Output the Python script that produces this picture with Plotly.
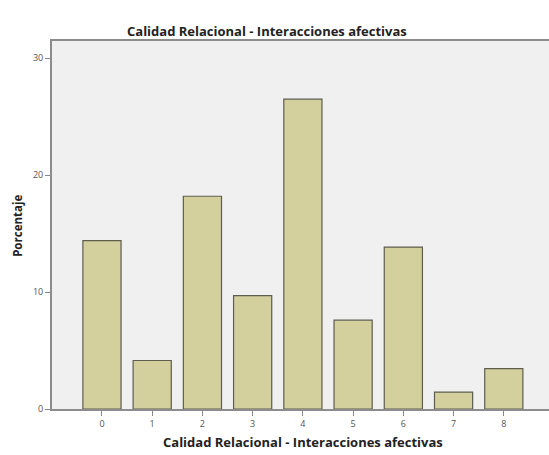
import plotly.graph_objects as go

categories = [0, 1, 2, 3, 4, 5, 6, 7, 8]
percentages = [14.4, 4.15, 18.2, 9.7, 26.5, 7.6, 13.85, 1.45, 3.45]
y_ticks = [0, 10, 20, 30]
title_text = "Calidad Relacional - Interacciones afectivas"
x_title = "Calidad Relacional - Interacciones afectivas"
y_title = "Porcentaje"

fig = go.Figure(go.Bar(
    x=categories,
    y=percentages,
    width=0.76,
    marker=dict(color="#D3D09E", line=dict(color="#5E5D50", width=1.2)),
))

fig.update_layout(
    width=549, height=455,
    margin=dict(l=52, r=0, t=41, b=46),
    paper_bgcolor="white",
    plot_bgcolor="#F0F0F0",
    showlegend=False,
    font=dict(family="Open Sans", color="#333"),
    annotations=[
        dict(text="<b>" + title_text + "</b>", xref="paper", yref="paper",
             x=(267 - 52) / 497, y=1, yshift=10, xanchor="center", yanchor="middle",
             showarrow=False, font=dict(size=13, color="#222")),
        dict(text="<b>" + x_title + "</b>", xref="paper", yref="paper",
             x=(303 - 52) / 497, y=0, yshift=-33, xanchor="center", yanchor="middle",
             showarrow=False, font=dict(size=13, color="#222")),
        dict(text="<b>" + y_title + "</b>", xref="paper", yref="paper",
             x=0, xshift=-34, y=(409.3 - 226) / 368.3, xanchor="center", yanchor="middle",
             textangle=-90, showarrow=False, font=dict(size=11.5, color="#222")),
    ],
)

fig.update_xaxes(
    range=[-0.995, 8.9],
    tickmode="array", tickvals=categories, ticktext=[str(c) for c in categories],
    ticks="outside", ticklen=5, tickcolor="#888", tickwidth=1,
    tickfont=dict(size=9, color="#555"),
    showgrid=False, zeroline=False,
    showline=True, linecolor="#8C8C8C", linewidth=1.5, mirror=True,
)
fig.update_yaxes(
    range=[0, 31.48],
    tickmode="array", tickvals=y_ticks, ticktext=[str(t) for t in y_ticks],
    ticks="outside", ticklen=5, tickcolor="#888", tickwidth=1,
    tickfont=dict(size=9, color="#555"),
    showgrid=False, zeroline=False,
    showline=True, linecolor="#8C8C8C", linewidth=2,
)

fig.write_html(
    "out.html",
    config={"displayModeBar": False},
    post_script="document.body.style.margin='0';document.body.style.overflow='hidden';",
)
